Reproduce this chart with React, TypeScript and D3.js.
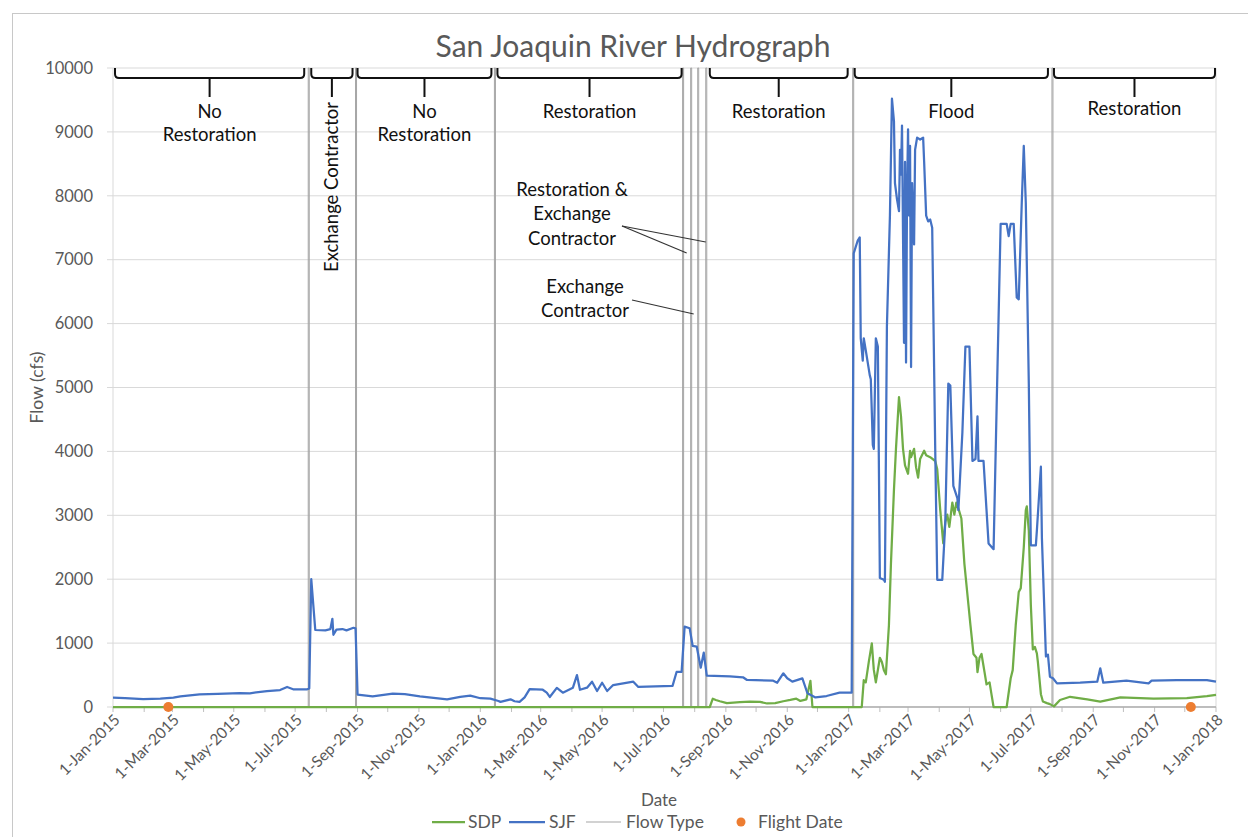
import React from 'react';
import * as d3 from 'd3';

// ---------- DATA ----------
const sjfDates = [
  '2015-01-01','2015-01-13','2015-01-31','2015-02-17','2015-03-02','2015-03-09','2015-03-28','2015-04-15','2015-05-07','2015-05-17',
  '2015-06-03','2015-06-16','2015-06-23','2015-06-29','2015-07-13','2015-07-15','2015-07-17','2015-07-21','2015-07-31','2015-08-05',
  '2015-08-07','2015-08-08','2015-08-11','2015-08-17','2015-08-21','2015-08-28','2015-08-30','2015-09-01','2015-09-16','2015-10-06',
  '2015-10-18','2015-11-02','2015-11-29','2015-12-12','2015-12-22','2016-01-01','2016-01-11','2016-01-19','2016-01-21','2016-01-31',
  '2016-02-04','2016-02-09','2016-02-14','2016-02-19','2016-03-03','2016-03-07','2016-03-10','2016-03-17','2016-03-23','2016-04-02',
  '2016-04-06','2016-04-09','2016-04-16','2016-04-21','2016-04-26','2016-05-01','2016-05-06','2016-05-12','2016-06-01','2016-06-06',
  '2016-07-10','2016-07-14','2016-07-19','2016-07-22','2016-07-27','2016-07-30','2016-08-03','2016-08-07','2016-08-10','2016-08-13',
  '2016-09-05','2016-09-18','2016-09-22','2016-10-18','2016-10-22','2016-10-28','2016-11-01','2016-11-06','2016-11-16','2016-11-21',
  '2016-11-29','2016-12-10','2016-12-23','2017-01-04','2017-01-06','2017-01-10','2017-01-12','2017-01-13','2017-01-15','2017-01-16',
  '2017-01-18','2017-01-22','2017-01-23','2017-01-25','2017-01-26','2017-01-28','2017-01-30','2017-02-01','2017-02-05','2017-02-06',
  '2017-02-08','2017-02-11','2017-02-13','2017-02-15','2017-02-16','2017-02-18','2017-02-20','2017-02-21','2017-02-22','2017-02-23',
  '2017-02-25','2017-02-26','2017-02-27','2017-02-28','2017-03-01','2017-03-02','2017-03-03','2017-03-04','2017-03-05','2017-03-07',
  '2017-03-08','2017-03-10','2017-03-13','2017-03-16','2017-03-17','2017-03-19','2017-03-21','2017-03-23','2017-03-25','2017-03-28',
  '2017-03-30','2017-04-04','2017-04-07','2017-04-10','2017-04-12','2017-04-15','2017-04-19','2017-04-20','2017-04-24','2017-04-27',
  '2017-05-01','2017-05-04','2017-05-07','2017-05-09','2017-05-10','2017-05-15','2017-05-20','2017-05-25','2017-05-28','2017-06-01',
  '2017-06-07','2017-06-09','2017-06-11','2017-06-14','2017-06-17','2017-06-19','2017-06-22','2017-06-24','2017-06-26','2017-06-29',
  '2017-07-01','2017-07-06','2017-07-07','2017-07-11','2017-07-12','2017-07-16','2017-07-18','2017-07-20','2017-07-23','2017-07-27',
  '2017-08-19','2017-09-05','2017-09-08','2017-09-11','2017-10-04','2017-10-26','2017-10-29','2017-11-23','2017-12-23','2018-01-01',
];
const sjfValues = [
  147,140,125,130,147,167,199,205,219,215,
  250,265,313,277,277,290,2000,1205,1200,1220,
  1380,1130,1210,1220,1200,1240,1230,195,168,210,
  200,168,120,160,178,137,130,94,80,120,
  90,80,150,280,270,225,157,300,224,302,
  500,270,302,396,250,380,250,344,396,313,
  330,548,548,1257,1232,955,946,615,850,490,
  480,465,423,412,380,527,449,397,449,215,
  150,172,224,224,7100,7300,7350,5770,5420,5770,
  5580,5190,5130,4100,4040,5770,5640,2020,1990,1960,
  5960,7690,9520,9170,8200,7950,7760,8720,8330,9100,
  5700,8530,5390,8010,9040,7690,8780,5320,8200,7240,
  8720,8910,8880,8910,8530,7690,7600,7630,7500,4040,
  1990,1990,2890,5060,5030,3460,3270,3080,4300,5640,
  5640,3850,3880,4550,3850,3850,2560,2470,4680,7560,
  7560,7370,7560,7560,6410,6380,7890,8780,7890,5060,
  2530,2530,2760,3760,2650,790,820,475,450,370,
  380,396,605,380,412,370,412,422,422,396,
];

const sdpDates = [
  '2015-01-01','2016-08-16','2016-08-19','2016-08-22','2016-08-26','2016-09-02','2016-09-15','2016-09-25','2016-10-05','2016-10-12',
  '2016-10-20','2016-10-28','2016-11-04','2016-11-10','2016-11-14','2016-11-20','2016-11-24','2016-11-26','2017-01-14','2017-01-16',
  '2017-01-18','2017-01-21','2017-01-24','2017-01-26','2017-01-28','2017-02-01','2017-02-03','2017-02-05','2017-02-07','2017-02-10',
  '2017-02-12','2017-02-15','2017-02-17','2017-02-20','2017-02-22','2017-02-24','2017-02-26','2017-03-01','2017-03-03','2017-03-04',
  '2017-03-07','2017-03-09','2017-03-11','2017-03-13','2017-03-17','2017-03-19','2017-03-23','2017-03-28','2017-03-30','2017-04-02',
  '2017-04-05','2017-04-07','2017-04-09','2017-04-11','2017-04-14','2017-04-16','2017-04-18','2017-04-20','2017-04-23','2017-04-26',
  '2017-04-30','2017-05-02','2017-05-05','2017-05-08','2017-05-09','2017-05-11','2017-05-13','2017-05-16','2017-05-18','2017-05-21',
  '2017-05-23','2017-05-25','2017-06-07','2017-06-11','2017-06-13','2017-06-16','2017-06-19','2017-06-21','2017-06-24','2017-06-26',
  '2017-06-27','2017-06-29','2017-07-01','2017-07-03','2017-07-05','2017-07-07','2017-07-08','2017-07-11','2017-07-13','2017-07-17',
  '2017-07-20','2017-07-24','2017-07-30','2017-08-09','2017-08-26','2017-09-08','2017-09-28','2017-10-31','2017-12-03','2017-12-23',
  '2018-01-01',
];
const sdpValues = [
  0,0,130,110,90,60,75,85,80,55,
  60,90,110,130,95,120,410,0,0,420,
  385,705,995,580,385,770,705,577,513,1280,
  2240,3400,4040,4850,4550,4040,3780,3650,4010,3910,
  4040,3750,3590,3880,4010,3940,3910,3850,3720,3080,
  2560,2890,3010,2820,3200,3010,3200,3110,2950,2240,
  1600,1280,830,770,545,770,830,545,353,385,
  190,0,0,450,577,1280,1800,1860,2500,3080,
  3140,2760,1600,900,940,840,705,200,85,60,
  45,10,110,160,120,85,150,130,140,170,
  190,
];

// Flow-type boundary dates (the grey vertical lines)
const flowTypeDates = [
  '2015-07-14','2015-08-30','2016-01-15','2016-07-20','2016-07-28',
  '2016-08-04','2016-08-12','2017-01-05','2017-07-22',
];

const flightDates = ['2015-02-25','2017-12-07'];

// Period brackets along the top
const periodStarts = ['2015-01-03','2015-07-17','2015-09-01','2016-01-18','2016-08-16','2017-01-07','2017-07-24'];
const periodEnds   = ['2015-07-10','2015-08-27','2016-01-12','2016-07-19','2016-12-31','2017-07-18','2017-12-31'];
const periodLabels = [
  ['No','Restoration'],
  ['Exchange Contractor'],
  ['No','Restoration'],
  ['Restoration'],
  ['Restoration'],
  ['Flood'],
  ['Restoration'],
];

const yTickValues = [0,1000,2000,3000,4000,5000,6000,7000,8000,9000,10000];

// ---------- CHART ----------
const FONT = 'Lato, "Open Sans", sans-serif';
const C_SJF = '#4472C4';
const C_SDP = '#70AD47';
const C_FLOW = '#A5A5A5';
const C_FLIGHT = '#ED7D31';
const C_TEXT = '#595959';

export default function App() {
  const W = 1248, H = 837;
  const parse = d3.timeParse('%Y-%m-%d');
  const pd = (s: string) => parse(s) as Date;

  const x = d3.scaleTime().domain([pd('2015-01-01'), pd('2018-01-01')]).range([113, 1216]);
  const y = d3.scaleLinear().domain([0, 10000]).range([707, 68]);

  const line = d3.line<[Date, number]>().x(d => x(d[0])).y(d => y(d[1]));

  const sjf: [Date, number][] = sjfDates.map((d, i) => [pd(d), sjfValues[i]]);
  const sdp: [Date, number][] = sdpDates.map((d, i) => [pd(d), sdpValues[i]]);

  const flow: [Date, number][] = [[pd('2015-01-01'), 0]];
  flowTypeDates.forEach(s => {
    const d0 = pd(s);
    const d1 = d3.timeDay.offset(d0, 1);
    flow.push([d0, 0], [d0, 10000], [d1, 10000], [d1, 0]);
  });
  flow.push([pd('2018-01-01'), 0]);

  const monthTicks = d3.timeMonth.range(pd('2015-01-01'), d3.timeDay.offset(pd('2018-01-01'), 1));
  const labelTicks = d3.timeMonth.every(2)!.range(pd('2015-01-01'), d3.timeDay.offset(pd('2018-01-01'), 1));
  const fmt = d3.timeFormat('%-d-%b-%Y');

  const [x0, x1] = x.range();
  const [yb, yt] = y.range();

  return (
    <svg width={W} height={H} style={{ position: 'absolute', left: 0, top: 0, background: '#fff' }}
      fontFamily={FONT}>
      <rect x={12.5} y={13.5} width={1260} height={860} fill="#fff" stroke="#c8c8c8" strokeWidth={1} />

      <text x={633} y={57} textAnchor="middle" fontSize={30} fill={C_TEXT}>San Joaquin River Hydrograph</text>

      {/* gridlines */}
      {yTickValues.map(v => (
        <g key={v}>
          <line x1={x0 - 6} x2={x1} y1={y(v)} y2={y(v)} stroke="#d9d9d9" strokeWidth={1} />
          <text x={93} y={y(v)} dy="0.35em" textAnchor="end" fontSize={16.5} fill={C_TEXT}>{v}</text>
        </g>
      ))}
      <line x1={x0} x2={x0} y1={yt} y2={yb} stroke="#d9d9d9" />
      <line x1={x1} x2={x1} y1={yt} y2={yb} stroke="#d9d9d9" />

      {/* x axis */}
      <line x1={x0} x2={x1} y1={yb} y2={yb} stroke="#bfbfbf" strokeWidth={1} />
      {monthTicks.map((d, i) => (
        <line key={i} x1={x(d)} x2={x(d)} y1={yb} y2={yb + 5} stroke="#bfbfbf" />
      ))}
      {labelTicks.map((d, i) => (
        <text key={i} transform={`translate(${x(d) + 4},${yb + 10}) rotate(-45)`} textAnchor="end"
          dy="0.35em" fontSize={15.5} fill={C_TEXT}>{fmt(d)}</text>
      ))}

      {/* axis titles */}
      <text transform={`translate(37,${(yt + yb) / 2}) rotate(-90)`} textAnchor="middle" dy="0.35em" fontSize={17.5} fill={C_TEXT}>Flow (cfs)</text>
      <text x={659} y={806} textAnchor="middle" fontSize={17} fill={C_TEXT}>Date</text>

      {/* series */}
      <path d={line(flow) || ''} fill="none" stroke={C_FLOW} strokeWidth={1} />
      <path d={line(sdp) || ''} fill="none" stroke={C_SDP} strokeWidth={2.25} strokeLinejoin="round" />
      <path d={line(sjf) || ''} fill="none" stroke={C_SJF} strokeWidth={2.25} strokeLinejoin="round" />
      {flightDates.map((d, i) => (
        <circle key={i} cx={x(pd(d))} cy={y(0)} r={5} fill={C_FLIGHT} />
      ))}

      {/* period brackets */}
      {periodStarts.map((s, i) => {
        const a = x(pd(s)), b = x(pd(periodEnds[i]));
        const c = (a + b) / 2;
        const top = yt, mid = yt + 10;
        const d = `M${a},${top} L${a},${mid - 4} Q${a},${mid} ${a + 4},${mid} L${b - 4},${mid} Q${b},${mid} ${b},${mid - 4} L${b},${top} M${c},${mid} L${c},${mid + 19}`;
        const lbl = periodLabels[i];
        const vertical = b - a < 60;
        return (
          <g key={i}>
            <path d={d} fill="none" stroke="#111" strokeWidth={2} />
            {vertical ? (
              <text transform={`translate(${c},187) rotate(-90)`} textAnchor="middle" dy="0.35em" fontSize={18.5} fill="#111">{lbl[0]}</text>
            ) : (
              lbl.map((t, j) => (
                <text key={j} x={c} y={(i === 6 ? 115 : 118) + j * 23} textAnchor="middle" fontSize={18.5} fill="#111">{t}</text>
              ))
            )}
          </g>
        );
      })}

      {/* annotations */}
      <g fontSize={18.5} fill="#111" textAnchor="middle">
        <text x={572} y={196}>Restoration &amp;</text>
        <text x={572} y={220}>Exchange</text>
        <text x={572} y={245}>Contractor</text>
        <text x={585} y={293}>Exchange</text>
        <text x={585} y={317}>Contractor</text>
      </g>
      <g stroke="#333" strokeWidth={1.2}>
        <line x1={622} y1={226} x2={x(pd('2016-08-12'))} y2={242} />
        <line x1={622} y1={226} x2={x(pd('2016-07-28')) - 4} y2={253} />
        <line x1={632} y1={300} x2={x(pd('2016-08-04')) - 4} y2={314} />
      </g>

      {/* legend */}
      <g fontSize={17.5} fill={C_TEXT}>
        <line x1={432} x2={465} y1={822} y2={822} stroke={C_SDP} strokeWidth={2.25} />
        <text x={468} y={822} dy="0.35em">SDP</text>
        <line x1={509} x2={545} y1={822} y2={822} stroke={C_SJF} strokeWidth={2.25} />
        <text x={549} y={822} dy="0.35em">SJF</text>
        <line x1={586} x2={621} y1={822} y2={822} stroke={C_FLOW} strokeWidth={1} />
        <text x={626} y={822} dy="0.35em">Flow Type</text>
        <circle cx={741} cy={822} r={4.5} fill={C_FLIGHT} />
        <text x={758} y={822} dy="0.35em">Flight Date</text>
      </g>
    </svg>
  );
}
